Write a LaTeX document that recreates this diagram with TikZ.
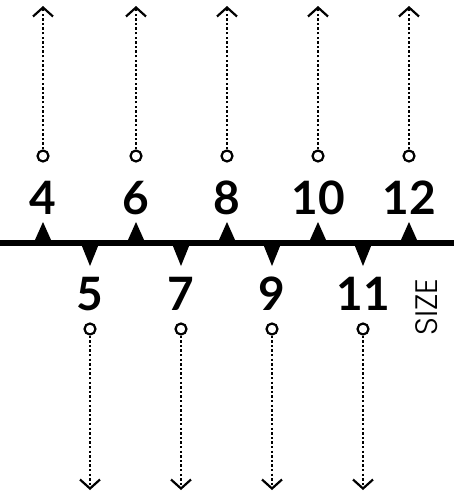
\documentclass[tikz,border=0pt]{standalone}
\usepackage{fontspec}
\setmainfont{Poppins}
\newfontfamily\numfont{Lato}
\IfFontExistsTF{Poppins Light}{\newfontfamily\lightfont{Poppins Light}}{\newfontfamily\lightfont{Poppins}}
\usetikzlibrary{arrows.meta}
\begin{document}
\begin{tikzpicture}[x=1pt,y=-1pt,
  num/.style={font=\fontsize{46}{46}\numfont\bfseries, inner sep=0pt, anchor=center},
  tri/.style={fill=black, draw=none},
  ring/.style={circle, draw=black, line width=2.2pt, fill=white, minimum size=11pt, inner sep=0pt},
  dotline/.style={line width=2.6pt, dash pattern=on 2.4pt off 2.2pt, -{Straight Barb[length=9pt,width=20pt,line width=2.2pt]}, shorten >=-1pt},
]
\useasboundingbox (0,0) rectangle (454,493);
\draw[line width=5.5pt] (0,243) -- (454,243);
% up labels
\foreach \x/\n in {43/4,136/6,227/8,318/10,409/12}{
  \fill[tri] (\x-8.5,241) -- (\x,222) -- (\x+8.5,241) -- cycle;
  \node[num] (n\n) at (\x,198) {\n};
  \node[ring] (c\n) at (\x,156) {};
  \coordinate (t\n) at (\x,7);
  \draw[dotline] (c\n) -- (t\n);
}
\foreach \x/\n in {90/5,181/7,272/9,363/11}{
  \fill[tri] (\x-8.5,245) -- (\x,266) -- (\x+8.5,245) -- cycle;
  \node[num] (n\n) at (\x,294) {\n};
  \node[ring] (c\n) at (\x,329) {};
  \coordinate (t\n) at (\x,489);
  \draw[dotline] (c\n) -- (t\n);
}
\node[font=\fontsize{31}{31}\lightfont, rotate=90, inner sep=0pt] (size) at (427,307) {SIZE};
\end{tikzpicture}
\end{document}
